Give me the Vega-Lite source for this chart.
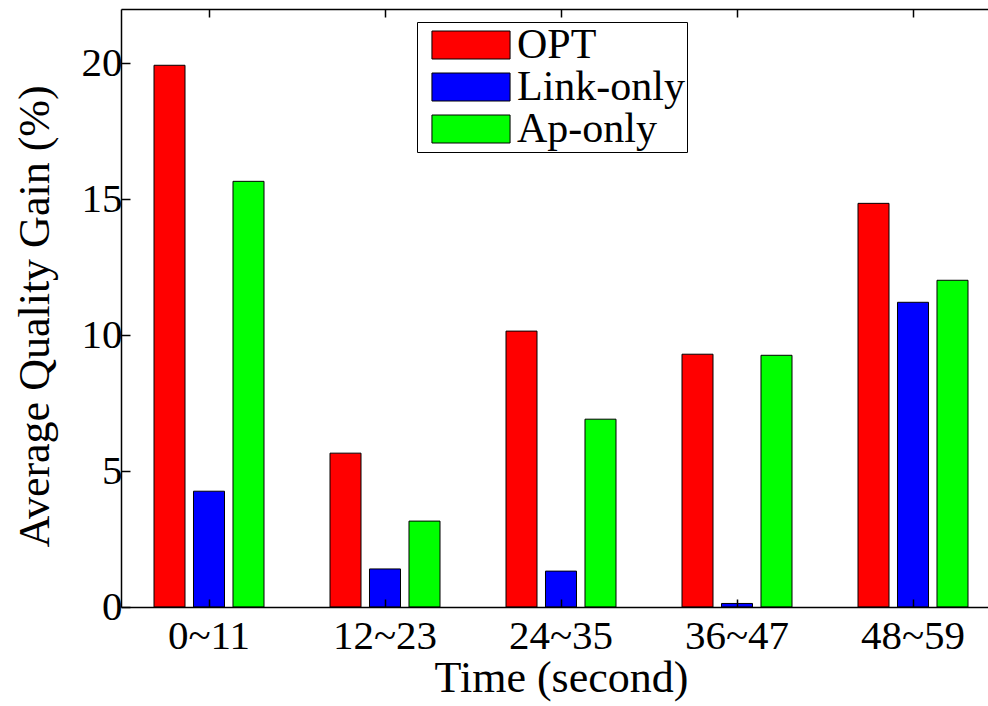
{
  "$schema": "https://vega.github.io/schema/vega-lite/v6.json",
  "autosize": {"type": "none"},
  "padding": {"left": 121, "top": 9, "right": 0, "bottom": 99},
  "width": 867,
  "height": 598,
  "background": "white",
  "config": {
    "view": {"stroke": null},
    "font": "Liberation Serif",
    "axis": {
      "labelFont": "Liberation Serif",
      "labelFontSize": 41,
      "labelColor": "black",
      "titleFont": "Liberation Serif",
      "titleFontSize": 44,
      "titleFontWeight": "normal",
      "titleColor": "black",
      "domainColor": "black",
      "domainWidth": 1.5,
      "tickColor": "black",
      "tickWidth": 1.5,
      "grid": false
    },
    "legend": {
      "labelFont": "Liberation Serif",
      "labelFontSize": 42,
      "labelColor": "black"
    }
  },
  "data": {
    "values": [
      {"time": "0~11", "method": "OPT", "gain": 19.93},
      {"time": "0~11", "method": "Link-only", "gain": 4.26},
      {"time": "0~11", "method": "Ap-only", "gain": 15.66},
      {"time": "12~23", "method": "OPT", "gain": 5.66},
      {"time": "12~23", "method": "Link-only", "gain": 1.4},
      {"time": "12~23", "method": "Ap-only", "gain": 3.16},
      {"time": "24~35", "method": "OPT", "gain": 10.15},
      {"time": "24~35", "method": "Link-only", "gain": 1.32},
      {"time": "24~35", "method": "Ap-only", "gain": 6.91},
      {"time": "36~47", "method": "OPT", "gain": 9.3},
      {"time": "36~47", "method": "Link-only", "gain": 0.13},
      {"time": "36~47", "method": "Ap-only", "gain": 9.26},
      {"time": "48~59", "method": "OPT", "gain": 14.85},
      {"time": "48~59", "method": "Link-only", "gain": 11.21},
      {"time": "48~59", "method": "Ap-only", "gain": 12.02}
    ]
  },
  "resolve": {"axis": {"x": "independent"}},
  "layer": [
    {
      "mark": {"type": "bar", "stroke": "black", "strokeWidth": 1},
      "encoding": {
        "x": {
          "field": "time",
          "type": "nominal",
          "sort": ["0~11", "12~23", "24~35", "36~47", "48~59"],
          "scale": {"range": [0, 880], "paddingInner": 0.375, "paddingOuter": 0.1875},
          "axis": {
            "labelAngle": 0,
            "tickSize": -8,
            "labelPadding": 17,
            "zindex": 1,
            "title": "Time (second)",
            "titleX": 440,
            "titleY": 84,
            "titleAlign": "center",
            "titleBaseline": "alphabetic"
          }
        },
        "xOffset": {
          "field": "method",
          "sort": ["OPT", "Link-only", "Ap-only"],
          "scale": {"paddingInner": 0.215, "paddingOuter": 0}
        },
        "y": {
          "field": "gain",
          "type": "quantitative",
          "scale": {"domain": [0, 22], "nice": false},
          "axis": {
            "values": [0, 5, 10, 15, 20],
            "tickSize": -9,
            "labelPadding": 8,
            "zindex": 1,
            "title": "Average Quality Gain (%)",
            "titleX": -73,
            "titleY": 307,
            "titleAngle": 270,
            "titleAlign": "center",
            "titleBaseline": "alphabetic"
          }
        },
        "color": {
          "field": "method",
          "type": "nominal",
          "sort": ["OPT", "Link-only", "Ap-only"],
          "scale": {"domain": ["OPT", "Link-only", "Ap-only"], "range": ["#ff0000", "#0000ff", "#00ff00"]},
          "legend": {
            "title": null,
            "orient": "none",
            "legendX": 296,
            "legendY": 13,
            "symbolType": "M-2.79,-1H2.79V1H-2.79Z",
            "symbolSize": 784,
            "symbolStrokeColor": "black",
            "symbolStrokeWidth": 1,
            "symbolOpacity": 1,
            "symbolOffset": 31,
            "strokeColor": "black",
            "fillColor": "white",
            "padding": 2,
            "rowPadding": -2,
            "labelOffset": 25,
            "labelLimit": 0,
            "labelExpr": "datum.label + '\u00a0\u00a0\u00a0'"
          }
        }
      }
    },
    {
      "mark": {"type": "bar", "opacity": 0},
      "encoding": {
        "x": {
          "field": "time",
          "type": "nominal",
          "sort": ["0~11", "12~23", "24~35", "36~47", "48~59"],
          "axis": {
            "orient": "top",
            "labels": false,
            "tickSize": -8,
            "zindex": 1,
            "title": null
          }
        }
      }
    }
  ]
}
